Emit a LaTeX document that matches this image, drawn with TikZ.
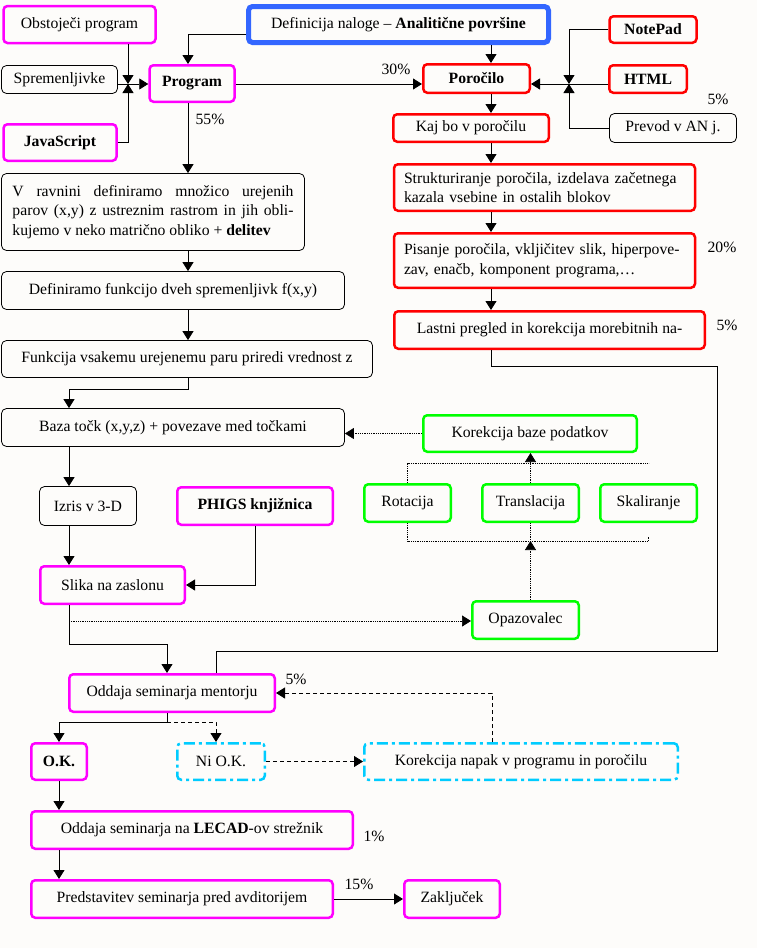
\documentclass[tikz,border=0pt]{standalone}
\usepackage{fontspec}
\setmainfont{Liberation Serif}
\usetikzlibrary{arrows.meta}

\definecolor{pageBg}{RGB}{253,252,250}
\definecolor{taskBlue}{RGB}{51,102,255}
\definecolor{codeMagenta}{RGB}{255,0,255}
\definecolor{reportRed}{RGB}{255,0,0}
\definecolor{viewGreen}{RGB}{0,255,0}
\definecolor{fixCyan}{RGB}{0,204,255}

\begin{document}
\begin{tikzpicture}[%
    x=1pt, y=-1pt,
    font=\fontsize{15.7}{19.5}\selectfont,
    taskBox/.style={%
        draw=taskBlue,
        line width=5pt,
        rounded corners=4pt,
        inner sep=0pt
    },
    codeBox/.style={%
        draw=codeMagenta,
        line width=2.5pt,
        rounded corners=4pt,
        inner sep=0pt
    },
    reportBox/.style={%
        draw=reportRed,
        line width=2.5pt,
        rounded corners=4pt,
        inner sep=0pt
    },
    viewBox/.style={%
        draw=viewGreen,
        line width=2.5pt,
        rounded corners=4pt,
        inner sep=0pt
    },
    plainBox/.style={%
        draw,
        line width=0.8pt,
        rounded corners=5pt,
        inner sep=0pt
    },
    fixBox/.style={%
        draw=fixCyan,
        line width=2.5pt,
        dash pattern=on 11pt off 4pt on 3pt off 4pt,
        rounded corners=4pt,
        inner sep=0pt
    },
    percent/.style={%
        inner sep=0pt
    },
    viewLink/.style={%
        densely dotted,
        line width=0.7pt
    },
    fixLink/.style={%
        dash pattern=on 4pt off 3pt,
        line width=0.8pt
    },
    every path/.append style={line width=0.8pt},
    >={Triangle[width=11pt,length=9pt]}
]

% Page
    \fill[pageBg] (0,0) rectangle (757,948);
    \useasboundingbox (0,0) rectangle (757,948);

% Task and program inputs
    \node[taskBox, minimum width=300pt, minimum height=36pt] (definicija) at (398.5,24.5) {Definicija naloge -- \textbf{Analitične površine}};
    \node[codeBox, minimum width=152pt, minimum height=37pt] (obstojeci) at (79.5,24.5) {Obstoječi program};
    \node[plainBox, minimum width=116pt, minimum height=28pt] (spremenljivke) at (59.5,79.5) {Spremenljivke};
    \node[codeBox, minimum width=113pt, minimum height=36.5pt] (javascript) at (60,142.5) {\textbf{JavaScript}};
    \node[codeBox, minimum width=85pt, minimum height=36.5pt] (program) at (192,83.5) {\textbf{Program}};

% Report tools
    \node[reportBox, minimum width=106.5pt, minimum height=28.5pt] (porocilo) at (476.5,78.5) {\textbf{Poročilo}};
    \node[reportBox, minimum width=87pt, minimum height=26.5pt] (notepad) at (653,29.5) {\textbf{NotePad}};
    \node[reportBox, minimum width=77.5pt, minimum height=27.5pt] (html) at (648,79) {\textbf{HTML}};
    \node[plainBox, minimum width=127pt, minimum height=29pt] (prevod) at (673,128) {Prevod v AN j.};

% Report steps
    \node[reportBox, minimum width=155.5pt, minimum height=27.5pt] (kajbo) at (471,128) {Kaj bo v poročilu};
    \node[reportBox, minimum height=46.5pt, text width=281pt, inner xsep=10pt, align=left] (strukt) at (544.5,187.5) {Strukturiranje poročila, izdelava začetnega kazala vsebine in ostalih blokov};
    \node[reportBox, minimum height=54.5pt, text width=281pt, inner xsep=10pt, align=left] (pisanje) at (544.5,260.5) {Pisanje poročila, vkljičitev slik, hiperpove-\\zav, enačb, komponent programa,\dots};
    \node[reportBox, minimum width=310.5pt, minimum height=37.5pt] (lastni) at (549.5,330) {Lastni pregled in korekcija morebitnih na-};

% Surface steps
    \node[plainBox, minimum height=77pt, text width=281pt, inner xsep=11pt, align=justify] (vravnini) at (153,212) {V ravnini definiramo množico urejenih\linebreak parov (x,y) z ustreznim rastrom in jih obli-\linebreak kujemo v neko matrično obliko + \textbf{delitev}};
    \node[plainBox, minimum width=343pt, minimum height=38pt] (definiramo) at (173,290.5) {Definiramo funkcijo dveh spremenljivk f(x,y)};
    \node[plainBox, minimum width=371pt, minimum height=37pt] (funkcija) at (187,359) {Funkcija vsakemu urejenemu paru priredi vrednost z};
    \node[plainBox, minimum width=343pt, minimum height=38pt] (baza) at (173,427.5) {Baza točk (x,y,z) + povezave med točkami};

% Transformations
    \node[viewBox, minimum width=213.5pt, minimum height=36.5pt] (korbaze) at (530,433.5) {Korekcija baze podatkov};
    \node[viewBox, minimum width=86.5pt, minimum height=37.5pt] (rotacija) at (407.5,503) {Rotacija};
    \node[viewBox, minimum width=96.5pt, minimum height=37.5pt] (translacija) at (530.5,503) {Translacija};
    \node[viewBox, minimum width=96.5pt, minimum height=37.5pt] (skaliranje) at (648.5,503) {Skaliranje};
    \node[viewBox, minimum width=106.5pt, minimum height=37.5pt] (opazovalec) at (525.5,620) {Opazovalec};

% Drawing
    \node[plainBox, minimum width=97pt, minimum height=39pt] (izris) at (88,506) {Izris v 3-D};
    \node[codeBox, minimum width=155.5pt, minimum height=37.5pt] (phigs) at (255,506) {\textbf{PHIGS knjižnica}};
    \node[codeBox, minimum width=144.5pt, minimum height=37.5pt] (slika) at (112.5,585) {Slika na zaslonu};

% Handing in
    \node[codeBox, minimum width=205.5pt, minimum height=37.5pt] (oddaja) at (172,693) {Oddaja seminarja mentorju};
    \node[codeBox, minimum width=55.5pt, minimum height=36.5pt] (ok) at (59,761.5) {\textbf{O.K.}};
    \node[fixBox, minimum width=87.5pt, minimum height=36.5pt] (niok) at (221,761.5) {Ni O.K.};
    \node[fixBox, minimum width=313.5pt, minimum height=36.5pt] (kornapak) at (521,761.5) {Korekcija napak v programu in poročilu};
    \node[codeBox, minimum width=321.5pt, minimum height=37.5pt] (lecad) at (192,830) {Oddaja seminarja na \textbf{LECAD}-ov strežnik};
    \node[codeBox, minimum width=301.5pt, minimum height=37.5pt] (predst) at (182,899) {Predstavitev seminarja pred avditorijem};
    \node[codeBox, minimum width=95.5pt, minimum height=37.5pt] (zakljucek) at (452,899) {Zaključek};

% Shares
    \node[percent] (pct30) at (396,69) {30\%};
    \node[percent] (pct55) at (210,119) {55\%};
    \node[percent] (pctPrevod) at (718,99) {5\%};
    \node[percent] (pct20) at (722,247) {20\%};
    \node[percent] (pctLastni) at (727,325) {5\%};
    \node[percent] (pctOddaja) at (296,679) {5\%};
    \node[percent] (pct1) at (374,836) {1\%};
    \node[percent] (pct15) at (359,884) {15\%};

% Joins
    \coordinate (joinIn) at (128,84);
    \coordinate (joinOut) at (569,84);
    \coordinate (rightCol) at (491,0);
    \coordinate (leftCol) at (188,0);
    \coordinate (lowCol) at (69,0);
    \coordinate (loopRight) at (717,651);
    \coordinate (loopIn) at (216,0);
    \coordinate (viewStart) at (69,621);
    \coordinate (bracketLow) at (0,541);
    \coordinate (bracketHigh) at (0,463);
    \coordinate (split) at (167,722);

% Arrows
\draw[->] (obstojeci.south -| joinIn) -- (joinIn);
\draw[->] (javascript.east) -| (joinIn);
\draw[->] (spremenljivke.east |- joinIn) -- (program.west |- joinIn);
\draw[->] ([yshift=-10pt]definicija.west) -| (program.north -| leftCol);
\draw[->] (definicija.south -| rightCol) -- (porocilo.north -| rightCol);
\draw[->] (program.east |- joinIn) -- (porocilo.west |- joinIn);

\draw[->] (notepad.west) -| (joinOut);
\draw[->] (prevod.west) -| (joinOut);
\draw[->] (html.west |- joinOut) -- (porocilo.east |- joinOut);

\draw[->] (porocilo.south -| rightCol) -- (kajbo.north -| rightCol);
\draw[->] (kajbo.south -| rightCol) -- (strukt.north -| rightCol);
\draw[->] (strukt.south -| rightCol) -- (pisanje.north -| rightCol);
\draw[->] (pisanje.south -| rightCol) -- (lastni.north -| rightCol);
\draw (lastni.south -| rightCol) -- ++(0,16) -| (loopRight) -| (oddaja.north -| loopIn);

\draw[->] (program.south -| leftCol) -- (vravnini.north -| leftCol);
\draw[->] (vravnini.south -| leftCol) -- (definiramo.north -| leftCol);
\draw[->] (definiramo.south -| leftCol) -- (funkcija.north -| leftCol);
\draw[->] (funkcija.south -| leftCol) -- ++(0,11) -| (baza.north -| lowCol);
\draw[->] (baza.south -| lowCol) -- (izris.north -| lowCol);
\draw[->] (izris.south -| lowCol) -- (slika.north -| lowCol);
\draw[->] (phigs.south) |- (slika.east);
\draw[->] (slika.south -| lowCol) -- ++(0,39) -| (oddaja.north -| split);

\draw[viewLink,->] (viewStart) -- (opazovalec.west |- viewStart);
\draw[viewLink,->] (opazovalec.north -| translacija.south) -- (translacija.south |- bracketLow);
\draw[viewLink] (rotacija.south) -- (rotacija.south |- bracketLow) -- (skaliranje.south |- bracketLow) -- ++(0,-4);
\draw[viewLink] (translacija.south) -- (translacija.south |- bracketLow);
\draw[viewLink] (rotacija.north) -- (rotacija.north |- bracketHigh) -- (skaliranje.north |- bracketHigh);
\draw[viewLink,->] (translacija.north) -- (korbaze.south -| translacija.north);
\draw[viewLink,->] (korbaze.west) -- (korbaze.west -| baza.east);

\draw (oddaja.south -| split) -- (split);
\draw[->] (split) -| (ok.north);
\draw[fixLink,->] (split) -| (niok.north -| loopIn);
\draw[fixLink,->] (niok.east) -- (kornapak.west);
\draw[fixLink,->] ([xshift=-29pt]kornapak.north) |- (oddaja.east);

\draw[->] (ok.south) -- (lecad.north -| ok.south);
\draw[->] (lecad.south -| ok.south) -- (predst.north -| ok.south);
\draw[->] (predst.east) -- (zakljucek.west);

\end{tikzpicture}
\end{document}
